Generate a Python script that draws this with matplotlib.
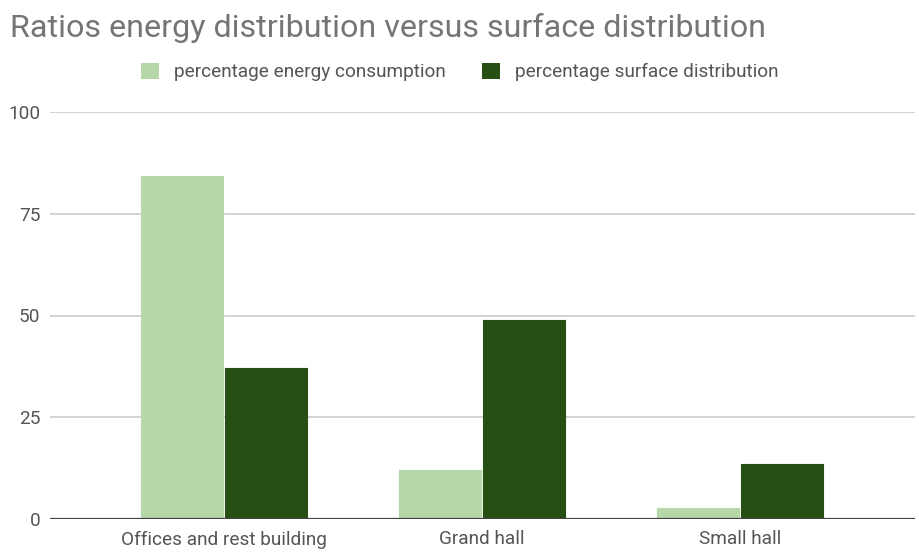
import numpy as np
import matplotlib.pyplot as plt
from matplotlib.patches import Patch

plt.rcParams['font.family'] = ['Roboto', 'DejaVu Sans']

categories = ["Offices and rest building", "Grand hall", "Small hall"]
energy_pct = [84.2, 12.1, 2.7]
surface_pct = [37.0, 48.9, 13.5]
series_names = ["percentage energy consumption", "percentage surface distribution"]
yticks = [0, 25, 50, 75, 100]

light_green = "#b6d7a8"
dark_green = "#274e13"

fig = plt.figure(figsize=(9.19, 5.55), dpi=100)
ax = fig.add_axes([50 / 919, 1 - 519.3 / 555, 865 / 919, (519.3 - 111.7) / 555])

x = np.arange(len(categories))
w = 0.318
off = 0.163
ax.bar(x - off, energy_pct, width=w, color=light_green, edgecolor=light_green,
       linewidth=0.8, joinstyle="round", zorder=3)
ax.bar(x + off, surface_pct, width=w, color=dark_green, edgecolor=dark_green,
       linewidth=0.8, joinstyle="round", zorder=3)

ax.set_xlim(-0.676, 2.680)
ax.set_ylim(0, 100)
ax.set_yticks(yticks)
ax.set_yticklabels([str(v) for v in yticks])
ax.set_xticks(x)
ax.set_xticklabels(categories)

ax.grid(axis="y", color="#cccccc", linewidth=1.2, zorder=0)
ax.axhline(0, color="#444444", linewidth=1.6, zorder=4)
for s in ax.spines.values():
    s.set_visible(False)
ax.tick_params(axis="both", length=0, labelsize=13.7, colors="#555555")
ax.tick_params(axis="y", pad=7)
ax.tick_params(axis="x", pad=8)

fig.text(10 / 919, 1 - 37 / 555, "Ratios energy distribution versus surface distribution",
         fontsize=23.2, color="#757575", ha="left", va="baseline")

handles = [Patch(facecolor=light_green, edgecolor="none"),
           Patch(facecolor=dark_green, edgecolor="none")]
fig.legend(handles, series_names, loc="center", bbox_to_anchor=(0.5, 1 - 72 / 555),
           ncol=2, frameon=False, fontsize=13.7, labelcolor="#555555",
           handlelength=0.95, handleheight=0.95, handletextpad=0.8, columnspacing=1.9)

fig.savefig("out.png", dpi=100, facecolor="white")
